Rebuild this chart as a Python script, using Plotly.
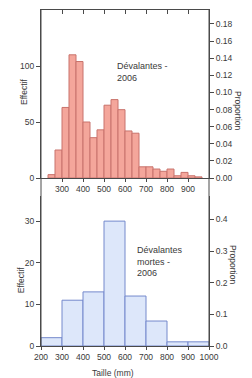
import numpy as np
import plotly.graph_objects as go

# ---- data ----
top_bin_left = [233.33, 266.67, 300.0, 333.33, 366.67, 400.0, 433.33, 466.67, 500.0, 533.33, 566.67,
                600.0, 633.33, 666.67, 700.0, 733.33, 766.67, 800.0, 833.33, 866.67, 900.0, 933.33]
top_counts = [3, 25, 63, 110, 104, 50, 36, 43, 65, 70, 61, 42, 40, 10, 10, 8, 6, 8, 2, 5, 2, 1]
top_bin_width = 33.33

bot_bin_left = [200, 300, 400, 500, 600, 700, 800, 900]
bot_counts = [2, 11, 13, 30, 12, 6, 1, 1]
bot_bin_width = 100

top_label = "Dévalantes -<br>2006"
bot_label = "Dévalantes<br>mortes -<br>2006"
x_title = "Taille (mm)"
y_title = "Effectif"
y2_title = "Proportion"

top_xticks = [300, 400, 500, 600, 700, 800, 900]
bot_xticks = [200, 300, 400, 500, 600, 700, 800, 900, 1000]
top_yticks = [0, 50, 100]
bot_yticks = [0, 10, 20, 30]
top_pticks = [0.0, 0.02, 0.04, 0.06, 0.08, 0.10, 0.12, 0.14, 0.16, 0.18]
bot_pticks = [0.0, 0.1, 0.2, 0.3, 0.4]

top_n = sum(top_counts)
bot_n = sum(bot_counts)
top_ymax = 150
bot_ymax = 36

AX = "#4a4a4a"
TXT = "#3a3a3a"
FONT = "Liberation Sans, Arial, sans-serif"
TF = dict(family=FONT, size=8.5, color=TXT)

top_x = np.array(top_bin_left) + top_bin_width / 2
bot_x = np.array(bot_bin_left) + bot_bin_width / 2

fig = go.Figure()
fig.add_trace(go.Bar(x=top_x, y=top_counts, width=top_bin_width,
                     marker=dict(color="#F4A69B", line=dict(color="#C8736C", width=1)),
                     xaxis="x", yaxis="y", showlegend=False, hoverinfo="skip"))
fig.add_trace(go.Bar(x=bot_x, y=bot_counts, width=bot_bin_width,
                     marker=dict(color="#DDE7FA", line=dict(color="#7489CC", width=1)),
                     xaxis="x2", yaxis="y3", showlegend=False, hoverinfo="skip"))
# invisible traces to create the proportion axes
fig.add_trace(go.Scatter(x=[None], y=[None], xaxis="x", yaxis="y2", showlegend=False))
fig.add_trace(go.Scatter(x=[None], y=[None], xaxis="x2", yaxis="y4", showlegend=False))
fig.add_trace(go.Scatter(x=[None], y=[None], xaxis="x3", yaxis="y", showlegend=False))

top_dom = [0.5, 1.0]
bot_dom = [0.0, 0.446]

common_x = dict(range=[200, 1000], showgrid=False, zeroline=False, showline=True,
                linecolor=AX, linewidth=1, ticks="outside", ticklen=3, tickcolor=AX,
                tickfont=TF)
common_y = dict(showgrid=False, zeroline=False, showline=True, linecolor=AX, linewidth=1,
                ticks="outside", ticklen=4, tickcolor=AX, tickfont=TF)

fig.update_layout(
    width=252, height=378,
    margin=dict(l=41, r=43, t=10, b=32),
    paper_bgcolor="white", plot_bgcolor="white",
    bargap=0,
    font=dict(family=FONT, color=TXT),
    xaxis=dict(common_x, anchor="y", domain=[0, 1], tickvals=top_xticks),
    xaxis3=dict(common_x, anchor="y", overlaying="x", side="top", tickvals=top_xticks,
                ticks="inside", showticklabels=False, ticklen=4),
    xaxis2=dict(common_x, anchor="y3", domain=[0, 1], tickvals=bot_xticks),
    yaxis=dict(common_y, domain=top_dom, anchor="x", range=[0, top_ymax], tickvals=top_yticks),
    yaxis2=dict(common_y, overlaying="y", side="right", anchor="x",
                range=[0, top_ymax / top_n], tickvals=top_pticks, tickformat=".2f"),
    yaxis3=dict(common_y, domain=bot_dom, anchor="x2", range=[0, bot_ymax], tickvals=bot_yticks),
    yaxis4=dict(common_y, overlaying="y3", side="right", anchor="x2",
                range=[0, bot_ymax / bot_n], tickvals=bot_pticks, tickformat=".1f"),
)

# connecting vertical axis lines through the gap
for xp in (0, 1):
    fig.add_shape(type="line", xref="paper", yref="paper", x0=xp, x1=xp, y0=0, y1=1,
                  line=dict(color=AX, width=1))

ann_font = dict(family=FONT, size=9, color=TXT)
title_font = dict(family=FONT, size=8.5, color=TXT)
fig.add_annotation(text=top_label, x=552, y=95, xref="x", yref="y", xanchor="left",
                   yanchor="middle", align="left", showarrow=False, font=ann_font)
fig.add_annotation(text=bot_label, x=648, y=20.2, xref="x2", yref="y3", xanchor="left",
                   yanchor="middle", align="left", showarrow=False, font=ann_font)
# axis titles
C = dict(xanchor="center", yanchor="middle", showarrow=False, xref="paper", yref="paper",
         font=title_font)
fig.add_annotation(text=y_title, x=-0.101, y=0.756, textangle=-90, **C)
fig.add_annotation(text=y_title, x=-0.119, y=0.196, textangle=-90, **C)
fig.add_annotation(text=y2_title, x=1.173, y=0.702, textangle=90, **C)
fig.add_annotation(text=y2_title, x=1.143, y=0.244, textangle=90, **C)
fig.add_annotation(text=x_title, x=0.43, y=-0.080, **C)

fig.write_html("out.html", config={"displayModeBar": False, "staticPlot": True},
               post_script="document.body.style.margin='0';document.body.style.overflow='hidden';")
